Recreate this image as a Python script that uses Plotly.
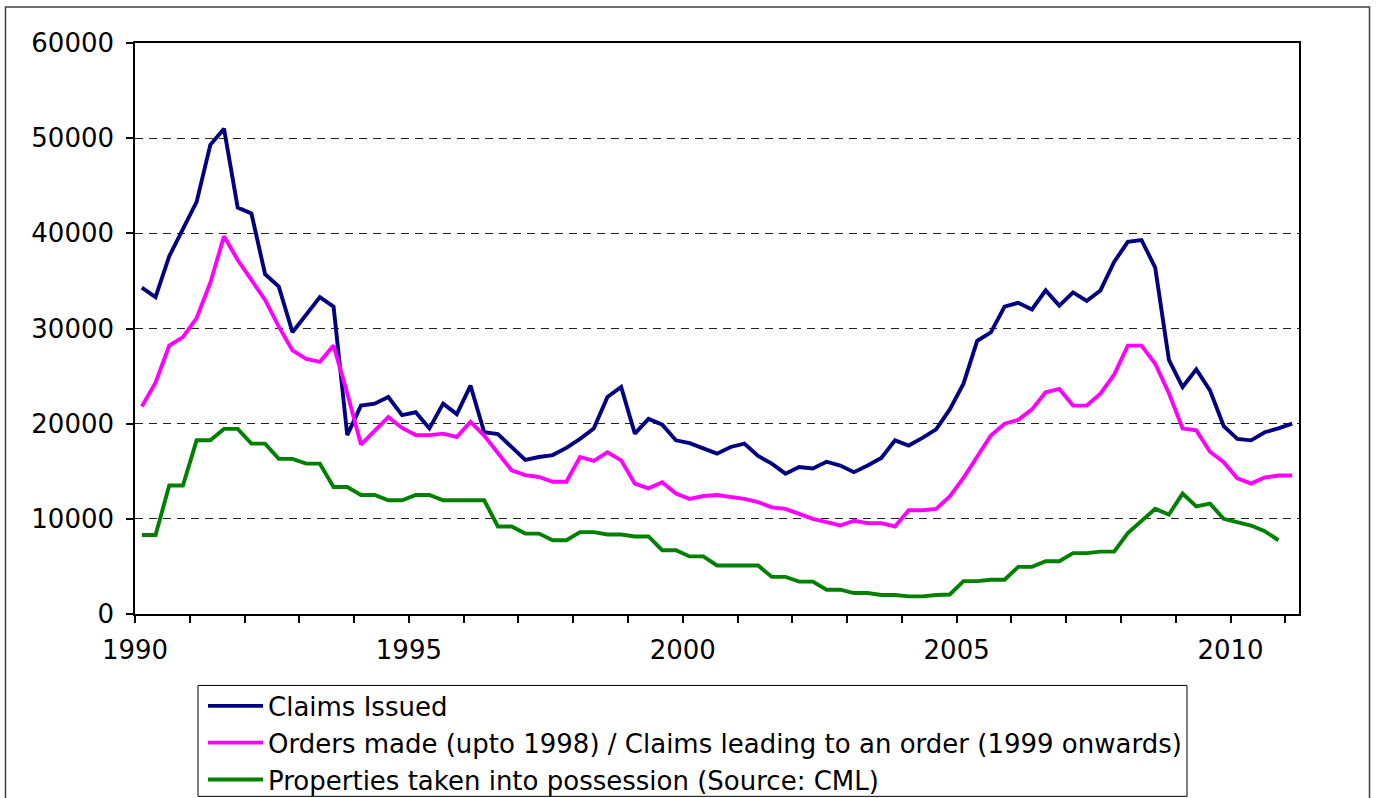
import plotly.graph_objects as go

# Quarterly series, 1990 Q1 onwards
start_year = 1990
claims_issued = [34300, 33300, 37600, 40400, 43300, 49300, 51000, 42700, 42100, 35700,
                 34400, 29600, 31400, 33300, 32300, 18800, 21900, 22100, 22800, 20900,
                 21200, 19500, 22100, 21000, 24000, 19100, 18900, 17600, 16200, 16500,
                 16700, 17450, 18400, 19500, 22800, 23850, 18950, 20500, 19900, 18250,
                 17950, 17400, 16850, 17550, 17900, 16600, 15800, 14750, 15450, 15300,
                 16000, 15600, 14900, 15600, 16400, 18250, 17700, 18500, 19400, 21500,
                 24200, 28700, 29600, 32300, 32700, 32000, 34000, 32400, 33800, 32900,
                 34000, 37000, 39100, 39300, 36400, 26700, 23850, 25700, 23500, 19750,
                 18400, 18250, 19100, 19500, 20000]
orders_made = [21800, 24300, 28200, 29100, 31100, 34800, 39700, 37200, 35100, 33000,
               30200, 27700, 26800, 26500, 28200, 23200, 17800, 19200, 20700, 19550,
               18800, 18800, 18950, 18600, 20200, 18750, 16850, 15100, 14600, 14400,
               13900, 13900, 16500, 16100, 17000, 16150, 13700, 13200, 13850, 12650,
               12100, 12400, 12500, 12300, 12100, 11750, 11200, 11050, 10550, 10000,
               9650, 9300, 9800, 9550, 9550, 9200, 10900, 10900, 11050, 12350,
               14300, 16600, 18750, 20000, 20400, 21500, 23300, 23650, 21900, 21900,
               23150, 25150, 28200, 28200, 26300, 23200, 19500, 19300, 17050, 15950,
               14250, 13700, 14350, 14550, 14550]
possessions = [8300, 8300, 13500, 13500, 18250, 18250, 19450, 19450, 17900, 17900,
               16300, 16300, 15800, 15800, 13350, 13350, 12500, 12500, 11950, 11950,
               12500, 12500, 11950, 11950, 11950, 11950, 9200, 9200, 8450, 8450,
               7750, 7750, 8600, 8600, 8350, 8350, 8150, 8150, 6700, 6700,
               6050, 6050, 5100, 5100, 5100, 5100, 3900, 3900, 3400, 3400,
               2550, 2550, 2200, 2200, 2000, 2000, 1850, 1850, 2000, 2050,
               3450, 3450, 3600, 3600, 4950, 4950, 5550, 5550, 6400, 6400,
               6550, 6550, 8500, 9800, 11050, 10450, 12650, 11300, 11600, 10000,
               9650, 9300, 8700, 7750]

series_names = ["Claims Issued",
                "Orders made (upto 1998) / Claims leading to an order (1999 onwards)",
                "Properties taken into possession (Source: CML)"]
series_colors = ["#000080", "#FF00FF", "#008000"]
year_ticks = list(range(1990, 2012))
year_labels = [str(y) if y % 5 == 0 else "" for y in year_ticks]
y_ticks = [0, 10000, 20000, 30000, 40000, 50000, 60000]


def quarters(n):
    return [start_year + (i + 0.5) / 4 for i in range(n)]


FONT = "DejaVu Sans"
W, H = 1376, 798
L, R, T = 135, 77, 43
B = H - 614.5
PW, PH = W - L - R, H - T - B


def px(x):
    return (x - L) / PW


def py(y):
    return (H - B - y) / PH


fig = go.Figure()
for name, vals, col in zip(series_names, [claims_issued, orders_made, possessions], series_colors):
    fig.add_trace(go.Scatter(x=quarters(len(vals)), y=vals, name=name, mode="lines",
                             legendgroup=name,
                             line=dict(color=col, width=3.9)))

fig.update_layout(
    width=W, height=H,
    margin=dict(l=L, r=R, t=T, b=B, autoexpand=False),
    paper_bgcolor="white", plot_bgcolor="white",
    font=dict(family=FONT, size=26, color="black"),
    showlegend=True,
    legend=dict(x=px(203), y=py(683), xanchor="left", yanchor="top",
                bgcolor="rgba(0,0,0,0)", borderwidth=0, itemwidth=55,
                tracegroupgap=0, font=dict(family=FONT, size=26)),
    xaxis=dict(range=[1990, 2011.25], tickmode="array", tickvals=year_ticks, ticktext=year_labels,
               showgrid=False, zeroline=False, showline=True, linecolor="black", linewidth=1.5,
               mirror=True, ticks="outside", ticklen=7, tickcolor="black", tickwidth=1.5,
               ticklabelstandoff=5),
    yaxis=dict(range=[0, 60000], tickmode="array", tickvals=y_ticks, tickformat="d",
               showgrid=True, gridcolor="#222222", griddash="8px,6px", gridwidth=1,
               zeroline=False, showline=True, linecolor="black", linewidth=1.5,
               mirror=True, ticks="outside", ticklen=7, tickcolor="black", tickwidth=1.5,
               ticklabelstandoff=7),
    shapes=[
        dict(type="rect", xref="paper", yref="paper",
             x0=px(198), x1=px(1187), y0=py(797), y1=py(686),
             line=dict(color="black", width=1)),
        dict(type="rect", xref="paper", yref="paper",
             x0=px(5.5), x1=px(1369.5), y0=py(830), y1=py(7),
             line=dict(color="#404040", width=1.5)),
    ],
)

fig.write_html("out.html", config={"displayModeBar": False},
               post_script="document.body.style.margin='0px';")
